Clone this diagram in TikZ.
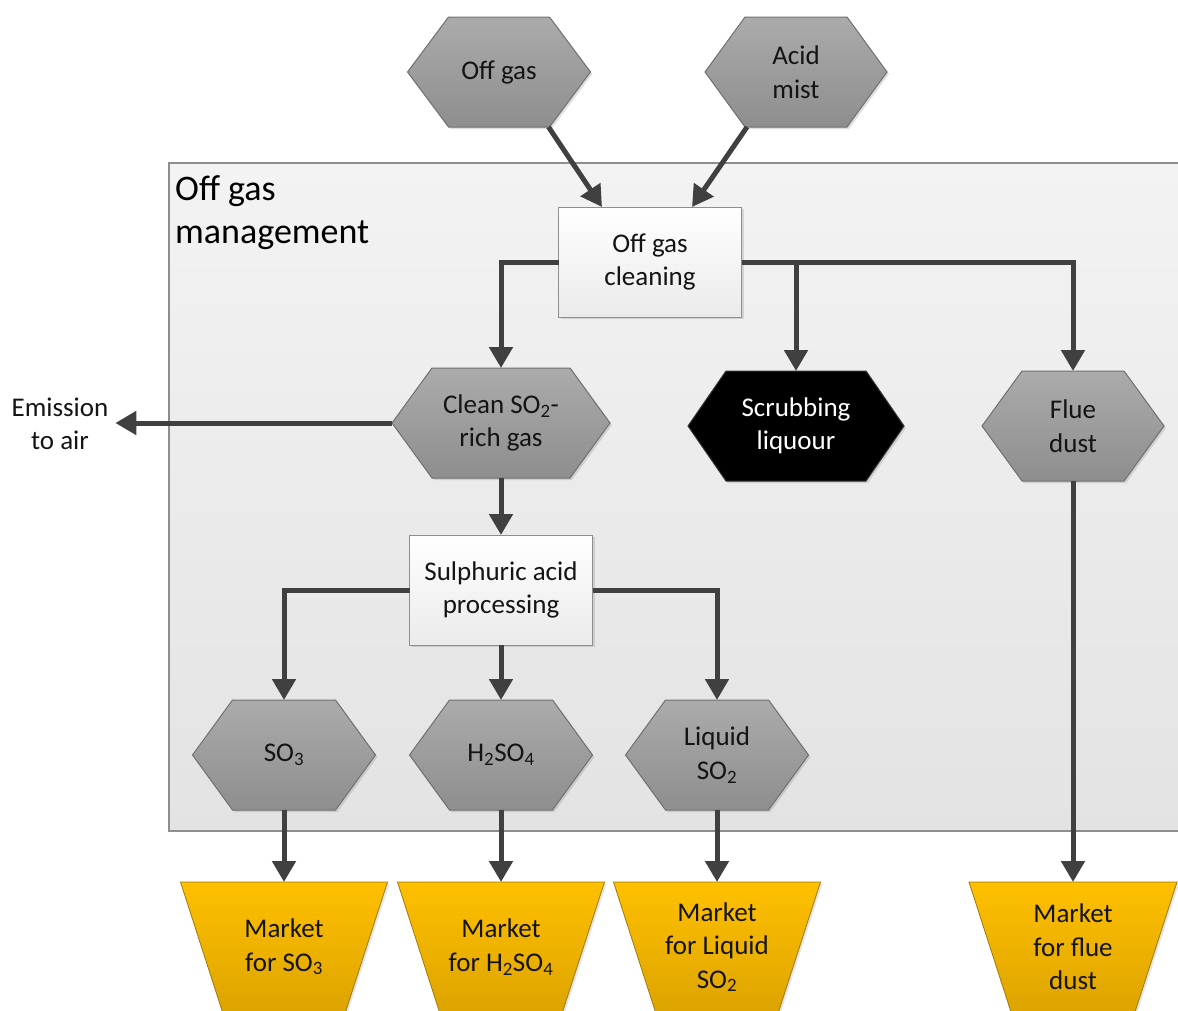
\documentclass[tikz,border=0pt]{standalone}
\usepackage{fontspec}
\setmainfont{Carlito}
\usetikzlibrary{arrows.meta,shadows}
\pgfdeclarelayer{bg}
\pgfdeclarelayer{shapes}
\pgfsetlayers{bg,shapes,main}

\definecolor{arrowgrey}{HTML}{404040}
\definecolor{hextop}{HTML}{ABABAB}
\definecolor{hexbot}{HTML}{8E8E8E}
\definecolor{hexline}{HTML}{707070}
\definecolor{mkttop}{HTML}{FFC000}
\definecolor{mktbot}{HTML}{DDA400}
\definecolor{mktline}{HTML}{9A7A10}
\definecolor{areatop}{HTML}{F3F3F3}
\definecolor{areabot}{HTML}{E3E3E3}
\definecolor{frameline}{HTML}{8E8E8E}

\tikzset{
  lbl/.style={inner sep=0pt, outer sep=0pt, align=center,
    font=\fontsize{27}{33.5}\selectfont, text=black!92},
  hexnode/.style={lbl, minimum width=183pt, minimum height=110pt},
  boxnode/.style={lbl, minimum width=183pt, minimum height=110pt,
    draw=frameline, line width=1pt, top color=white, bottom color=black!8,
    drop shadow={shadow xshift=2pt, shadow yshift=-2pt, opacity=.25}},
  mktnode/.style={lbl, minimum width=207pt, minimum height=130pt},
  hexfill/.style={draw=hexline, line width=1pt, top color=hextop, bottom color=hexbot,
    drop shadow={shadow xshift=2pt, shadow yshift=-2pt, opacity=.25}},
  darkfill/.style={draw=black!80, line width=1pt, fill=black,
    drop shadow={shadow xshift=2pt, shadow yshift=-2pt, opacity=.25}},
  mktfill/.style={draw=mktline, line width=0.8pt, top color=mkttop, bottom color=mktbot,
    drop shadow={shadow xshift=2pt, shadow yshift=-2pt, opacity=.2}},
  arr/.style={draw=arrowgrey, line width=5pt,
    -{Triangle[length=21pt,width=23pt]}},
}

% hexagon around a named node: #1 node, #2 inset of the slanted sides, #3 style
\newcommand\hexshape[3]{%
  \path[#3] (#1.west) -- ([xshift=#2]#1.north west) -- ([xshift=-#2]#1.north east)
    -- (#1.east) -- ([xshift=-#2]#1.south east) -- ([xshift=#2]#1.south west) -- cycle;}
% funnel-shaped market outlet around a named node
\newcommand\mktshape[2]{%
  \path[#2] (#1.north west) -- (#1.north east) -- ([xshift=-42pt]#1.south east)
    -- ([xshift=42pt]#1.south west) -- cycle;}

\begin{document}
\begin{tikzpicture}[x=1pt, y=-1pt]
\useasboundingbox (0,0) rectangle (1178,1010);

% ---- nodes ----
\node[hexnode] (og) at (499,72) {Off gas};
\node[hexnode, minimum width=182pt] (am) at (796,72) {Acid\\mist};
\node[boxnode] (ogc) at (650,262) {Off gas\\cleaning};
\node[hexnode, minimum width=218pt] (cl) at (501,423) {Clean SO\textsubscript{2}-\\rich gas};
\node[hexnode, minimum width=216pt, text=white] (sl) at (796,426) {Scrubbing\\liquour};
\node[hexnode, minimum width=182pt] (fd) at (1073,426) {Flue\\dust};
\node[boxnode] (sap) at (501,590) {Sulphuric acid\\processing};
\node[hexnode] (so3) at (284,755) {SO\textsubscript{3}};
\node[hexnode] (h2) at (501,755) {H\textsubscript{2}SO\textsubscript{4}};
\node[hexnode] (lq) at (717,755) {Liquid\\SO\textsubscript{2}};
\node[mktnode] (m1) at (284,947) {Market\\for SO\textsubscript{3}};
\node[mktnode] (m2) at (501,947) {Market\\for H\textsubscript{2}SO\textsubscript{4}};
\node[mktnode] (m3) at (717,947) {Market\\for Liquid\\SO\textsubscript{2}};
\node[mktnode, minimum width=208pt] (m4) at (1073,947) {Market\\for flue\\dust};
\node[lbl, inner sep=7pt] (em) at (60,424) {Emission\\to air};

% ---- background area and shapes ----
\begin{pgfonlayer}{bg}
  \node[draw=frameline, line width=1.2pt, top color=areatop, bottom color=areabot,
        minimum width=1030pt, minimum height=668pt, anchor=north west,
        inner sep=0pt, outer sep=0pt] (area) at (169,163) {};
\end{pgfonlayer}
\node[anchor=north west, inner sep=0pt, align=left,
      font=\fontsize{36}{43}\selectfont] (title) at (175,175) {Off gas\\management};

\begin{pgfonlayer}{shapes}
  \hexshape{og}{41pt}{hexfill}
  \hexshape{am}{40pt}{hexfill}
  \hexshape{cl}{40pt}{hexfill}
  \hexshape{sl}{38pt}{darkfill}
  \hexshape{fd}{40pt}{hexfill}
  \hexshape{so3}{40pt}{hexfill}
  \hexshape{h2}{40pt}{hexfill}
  \hexshape{lq}{40pt}{hexfill}
  \mktshape{m1}{mktfill}
  \mktshape{m2}{mktfill}
  \mktshape{m3}{mktfill}
  \mktshape{m4}{mktfill}
\end{pgfonlayer}

% ---- connectors ----
\draw[arr] ([xshift=-42pt]og.south east) -- ([xshift=-48pt]ogc.north);
\draw[arr] ([xshift=42pt]am.south west) -- ([xshift=42pt]ogc.north);
\draw[arr] (ogc.west) -| (cl.north);
\draw[arr] (ogc.east) -| (sl.north);
\draw[arr] (ogc.east) -| (fd.north);
\draw[arr] (cl.west) -- (cl.west -| em.east);
\draw[arr] (cl.south) -- (sap.north);
\draw[arr] (sap.west) -| (so3.north);
\draw[arr] (sap.south) -- (h2.north);
\draw[arr] (sap.east) -| (lq.north);
\draw[arr] (so3.south) -- (m1.north);
\draw[arr] (h2.south) -- (m2.north);
\draw[arr] (lq.south) -- (m3.north);
\draw[arr] (fd.south) -- (m4.north);
\end{tikzpicture}
\end{document}
